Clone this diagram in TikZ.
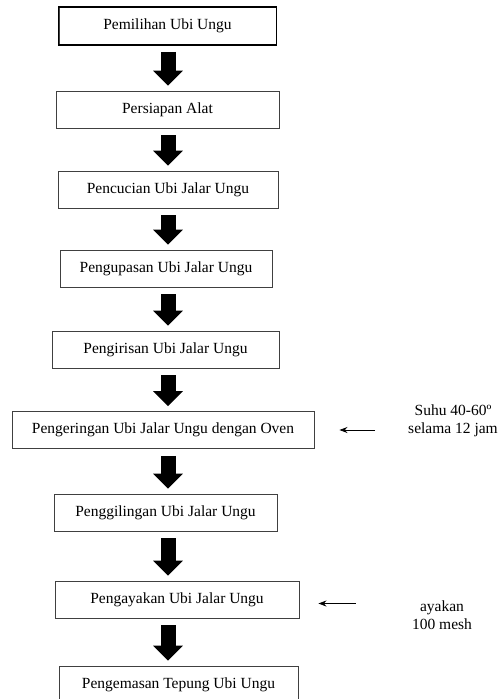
\documentclass[tikz,border=0pt]{standalone}
\usepackage{fontspec}
\setmainfont{Liberation Serif}
\usepackage{tikz}
\usetikzlibrary{calc,arrows.meta}

\tikzset{
  procbox/.style={draw=black!75,line width=0.9pt,minimum height=37pt,inner sep=0pt,
    font=\fontsize{15.5}{18.5}\selectfont},
  bigarrow/.style={line width=15pt,-{Triangle[width=29pt,length=15pt]},shorten <=7pt,shorten >=5pt},
  notearrow/.style={line width=0.8pt,-{Stealth[length=8pt,width=6pt]}},
  note/.style={align=center,inner sep=0pt,font=\fontsize{15.5}{18.5}\selectfont}
}

\begin{document}
\begin{tikzpicture}[x=1pt,y=-1pt]
\useasboundingbox (0,0) rectangle (501,699);
\foreach \n/\x/\y/\w/\t in {
  1/167.5/26/217/Pemilihan Ubi Ungu,
  2/167.5/109.5/223/Persiapan Alat,
  3/168/189.5/220/Pencucian Ubi Jalar Ungu,
  4/166/268.5/212/Pengupasan Ubi Jalar Ungu,
  5/165.5/349.5/227/Pengirisan Ubi Jalar Ungu,
  6/163/430/302/Pengeringan Ubi Jalar Ungu dengan Oven,
  7/165.5/512.5/223/Penggilingan Ubi Jalar Ungu,
  8/177/599.5/244/Pengayakan Ubi Jalar Ungu,
  9/178.5/684.5/239/Pengemasan Tepung Ubi Ungu}
\node[procbox,minimum width=\w pt] (b\n) at (\x,\y) {\t};
% first box has a heavier frame
\draw[black,line width=1.4pt] (b1.south west) rectangle (b1.north east);
\coordinate (ax) at (168,0);
\foreach \i/\j in {1/2,2/3,3/4,4/5,5/6,6/7,7/8,8/9}
\draw[bigarrow] (b\i.south -| ax) -- (b\j.north -| ax);
\node[note] (suhu) at (453,421) {Suhu 40-60º\\selama 12 jam};
\node[note] (ayakan) at (442,615) {ayakan\\100 mesh};
\draw[notearrow,shorten <=33pt,shorten >=25pt] (suhu.west |- b6) -- (b6.east);
\draw[notearrow,shorten <=56pt,shorten >=19pt] ($(ayakan.west |- b8)+(0,4)$) -- ($(b8.east)+(0,4)$);
\end{tikzpicture}
\end{document}
